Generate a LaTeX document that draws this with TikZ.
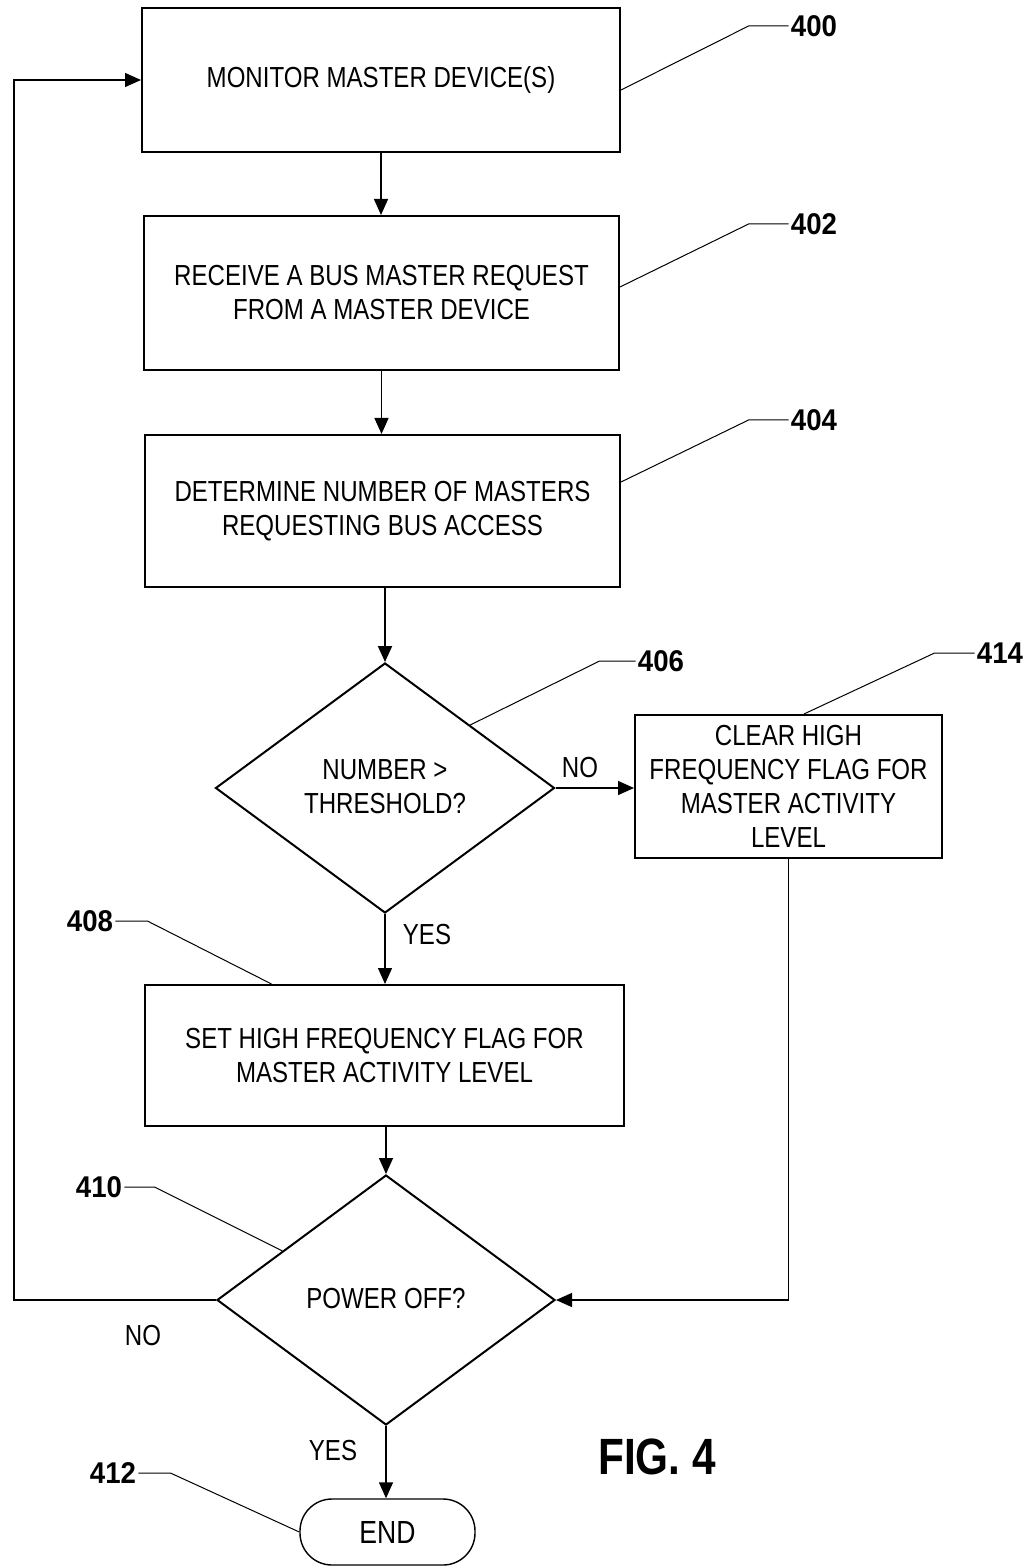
\documentclass[tikz,border=0pt]{standalone}
\usepackage{fontspec}
\setmainfont{Liberation Sans}[FakeStretch=0.83]
\newfontfamily\numfont{Liberation Sans}[FakeStretch=0.92]
\usetikzlibrary{shapes.geometric,arrows.meta,calc}

\begin{document}
\begin{tikzpicture}[x=0.5pt,y=-0.5pt,
  every node/.style={font=\fontsize{14.5}{17}\selectfont},
  stepbox/.style={draw, line width=1pt, inner sep=0pt, align=center},
  decide/.style={draw, diamond, line width=1pt, inner sep=0pt},
  flow/.style={line width=0.7pt, -{Triangle[length=8pt,width=7pt]}},
  lead/.style={line width=0.5pt},
  ref/.style={font=\numfont\bfseries\fontsize{15}{17}\selectfont, inner sep=1pt},
  lbl/.style={inner sep=0pt},
]
\useasboundingbox (0,0) rectangle (1029,1566);

% process steps
\node[stepbox, minimum width=239pt, minimum height=72pt] (b400) at (381,80)
  {MONITOR MASTER DEVICE(S)};
\node[stepbox, minimum width=237.5pt, minimum height=77pt] (b402) at (381.5,293)
  {RECEIVE A BUS MASTER REQUEST\\FROM A MASTER DEVICE};
\node[stepbox, minimum width=237.5pt, minimum height=76pt] (b404) at (382.5,511)
  {DETERMINE NUMBER OF MASTERS\\REQUESTING BUS ACCESS};
\node[decide, minimum width=169.5pt, minimum height=125pt] (d406) at (385,788) {};
\node[lbl, align=center] at (385,787) {NUMBER >\\THRESHOLD?};
\node[stepbox, minimum width=153.5pt, minimum height=71.5pt] (b414) at (788.5,786.5)
  {CLEAR HIGH\\FREQUENCY FLAG FOR\\MASTER ACTIVITY\\LEVEL};
\node[stepbox, minimum width=239.5pt, minimum height=70.5pt] (b408) at (384.5,1055.5)
  {SET HIGH FREQUENCY FLAG FOR\\MASTER ACTIVITY LEVEL};
\node[decide, minimum width=169pt, minimum height=125pt] (d410) at (386,1300) {};
\node[lbl] at (386,1299) {POWER OFF?};
\node[draw, line width=0.7pt, rounded corners=16pt, minimum width=87.5pt,
  minimum height=33pt, inner sep=0pt, font=\fontsize{16}{18}\selectfont] (end) at (387.5,1532) {END};

% flow connectors
\draw[flow] (b400.south) -- (b400.south |- b402.north);
\draw[flow] (b402.south) -- (b402.south |- b404.north);
\draw[flow, line width=1pt] (d406.north |- b404.south) -- (d406.north);
\draw[flow] (d406.east) -- (d406.east -| b414.west);
\draw[flow] (d406.south) -- (d406.south |- b408.north);
\draw[flow] (d410.north |- b408.south) -- (d410.north);
\draw[flow] (b414.south) |- (d410.east);
\coordinate (loop) at (14,1300);
\draw[flow] (d410.west) -- (loop) |- (b400.west);
\draw[flow] (d410.south) -- (d410.south |- end.north);

% branch labels
\node[lbl] at (580,768) {NO};
\node[lbl] at (427,935) {YES};
\node[lbl] at (143,1336) {NO};
\node[lbl] at (333,1450) {YES};

% reference numerals
\node[ref] (n400) at (814,26) {400};
\node[ref] (n402) at (814,224) {402};
\node[ref] (n404) at (814,420) {404};
\node[ref] (n406) at (661,661) {406};
\node[ref] (n414) at (1000,653) {414};
\node[ref] (n408) at (90,921) {408};
\node[ref] (n410) at (99,1187) {410};
\node[ref] (n412) at (113,1473) {412};

\draw[lead] ([yshift=-5pt]b400.east) -- ([xshift=-20pt]n400.west) -- (n400.west);
\draw[lead] ([yshift=3pt]b402.east) -- ([xshift=-20pt]n402.west) -- (n402.west);
\draw[lead] ([yshift=14.5pt]b404.east) -- ([xshift=-20pt]n404.west) -- (n404.west);
\draw[lead] (d406.north east) -- ([xshift=-18pt]n406.west) -- (n406.west);
\draw[lead] ($(b414.north west)!0.55!(b414.north east)$) -- ([xshift=-20pt]n414.west) -- (n414.west);
\draw[lead] (n408.east) -- ([xshift=16pt]n408.east) -- ($(b408.north west)!0.265!(b408.north east)$);
\draw[lead] (n410.east) -- ([xshift=15pt]n410.east) -- ($(d410.west)!0.39!(d410.north)$);
\draw[lead] (n412.east) -- ([xshift=16pt]n412.east) -- (end.west);

\node[lbl, font=\bfseries\fontsize{25.5}{30}\selectfont] (fig) at (657,1457) {FIG. 4};
\end{tikzpicture}
\end{document}
